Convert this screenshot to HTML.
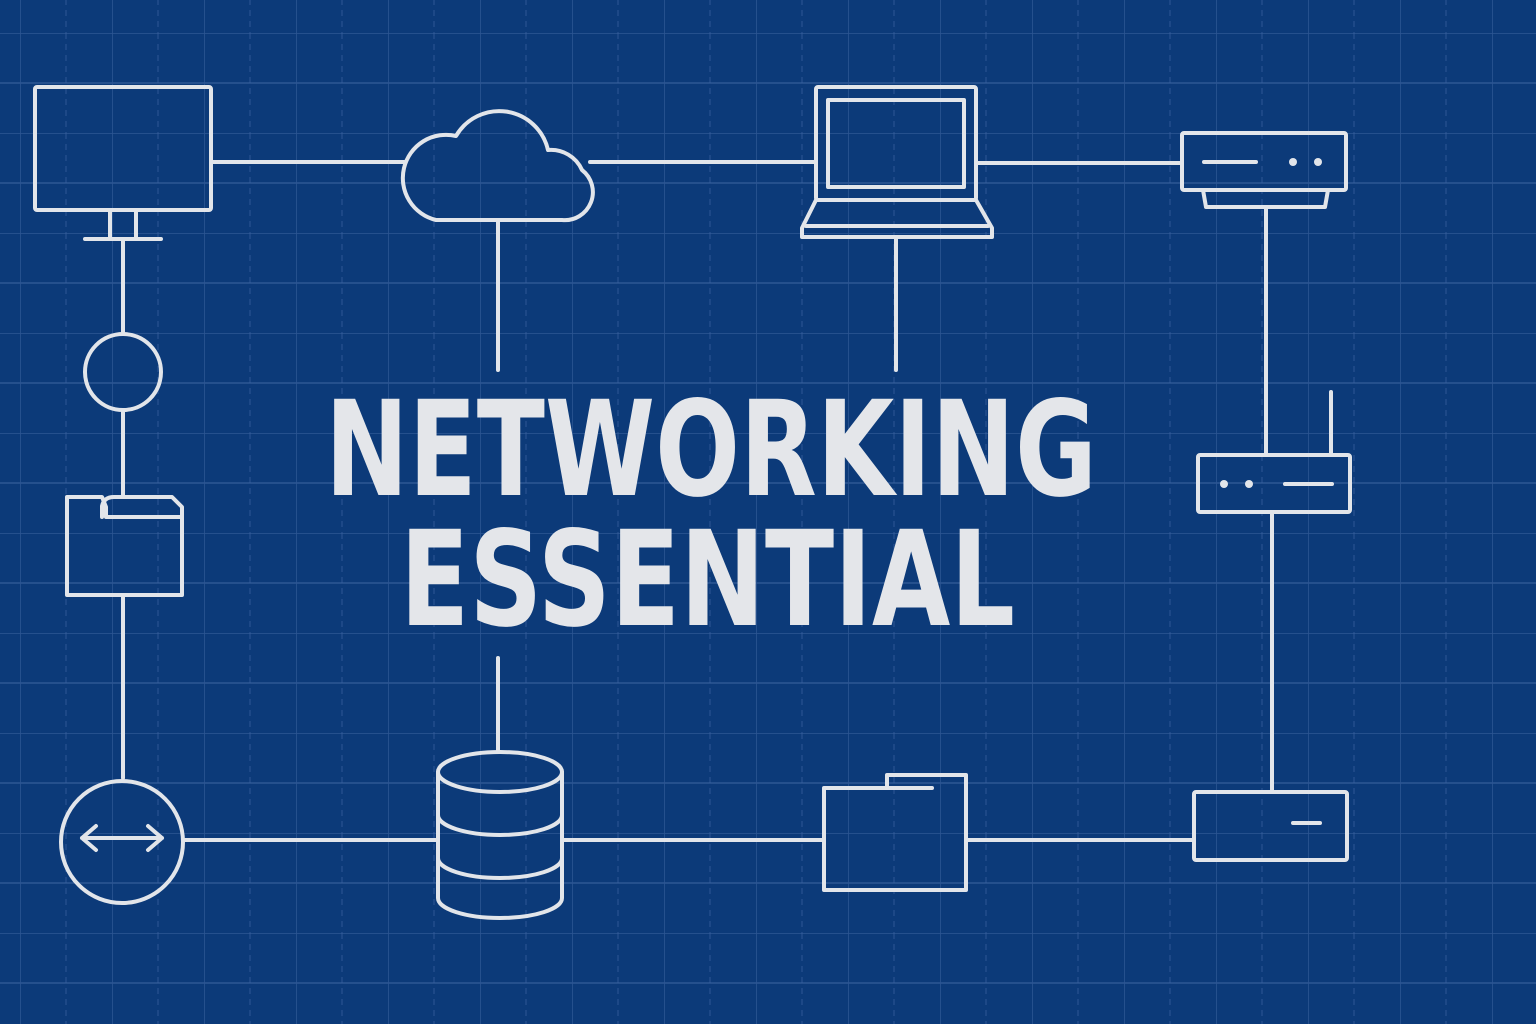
<!DOCTYPE html>
<html><head><meta charset="utf-8"><style>
html,body{margin:0;padding:0;background:#0c3a79;}
svg{display:block}
</style></head><body>
<svg width="1536" height="1024" viewBox="0 0 1536 1024" xmlns="http://www.w3.org/2000/svg">
<defs>
<pattern id="g" width="92" height="100" patternUnits="userSpaceOnUse" x="20" y="33">
<path d="M0 0V100M0 0H92M0 50H92" stroke="#3a62a0" stroke-width="1.5" fill="none" opacity="0.7"/>
<path d="M46 0V100" stroke="#3a62a0" stroke-width="1.2" stroke-dasharray="6 5" fill="none" opacity="0.6"/>
</pattern>
</defs>
<rect width="1536" height="1024" fill="#0c3a79"/>
<rect width="1536" height="1024" fill="url(#g)"/>
<g fill="none" stroke="#e2e5ea" stroke-width="4" stroke-linejoin="round" stroke-linecap="round">
<path d="M211 162H404M590 162H816M978 163H1182"/>
<path d="M123 239V334M123 410V497M123 595V778"/>
<path d="M498 220V370M896 237V370M498 658V752"/>
<path d="M1266 208V455M1272 512V792M1331 392V455"/>
<path d="M183 840H438M562 840H824M966 840H1194"/>
<rect x="35" y="87" width="176" height="123" rx="2"/>
<path d="M110 210V238M136 210V238M85 239H161"/>
<circle cx="123" cy="372" r="38"/>
<path d="M67 497H102L106 507V517H182V595H67Z"/>
<path d="M102 517V506Q104 497 114 497H172L182 507V517"/>
<circle cx="122" cy="842" r="61"/>
<path d="M82 838H162M82 838L96 826M82 838L96 850M162 838L148 826M162 838L148 850"/>
<path d="M436 220H562A28 28 0 0 0 582 170A34 34 0 0 0 548 150A50 50 0 0 0 456 136A42 42 0 0 0 436 220Z"/>
<rect x="816" y="87" width="160" height="113" rx="2"/>
<rect x="828" y="100" width="136" height="87"/>
<path d="M816 200L802 228V237H992V228L976 200Z M806 226H988"/>
<rect x="1182" y="133" width="164" height="57" rx="2"/>
<path d="M1203 190L1206 207H1325L1328 190"/>
<path d="M1204 162H1256"/>
<rect x="1198" y="455" width="152" height="57" rx="2"/>
<path d="M1285 484H1332"/>
<ellipse cx="500" cy="772" rx="62" ry="20"/>
<path d="M438 772V898A62 20 0 0 0 562 898V772"/>
<path d="M438 815A62 20 0 0 0 562 815M438 858A62 20 0 0 0 562 858"/>
<path d="M824 788H887V775H966V890H824Z"/>
<path d="M887 788H932"/>
<rect x="1194" y="792" width="153" height="68" rx="2"/>
<path d="M1293 823H1320"/>
</g>
<g fill="#e2e5ea">
<circle cx="1293" cy="162" r="4"/><circle cx="1318" cy="162" r="4"/>
<circle cx="1224" cy="484" r="4"/><circle cx="1249" cy="484" r="4"/>
</g>
<g fill="#e4e6ea" font-family="'DejaVu Sans','Liberation Sans',sans-serif" font-weight="bold" font-size="132">
<text x="325" y="495" textLength="772" lengthAdjust="spacingAndGlyphs">NETWORKING</text>
<text x="400" y="625" textLength="615" lengthAdjust="spacingAndGlyphs">ESSENTIAL</text>
</g>
</svg>
</body></html>
